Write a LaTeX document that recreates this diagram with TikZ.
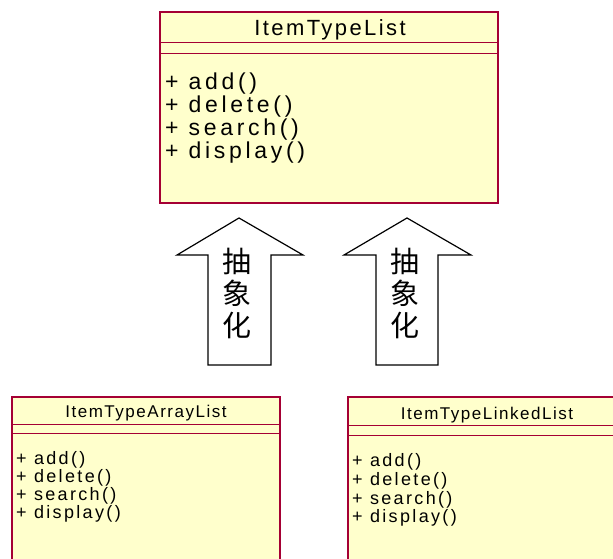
\documentclass[tikz,border=0pt]{standalone}
\usepackage{fontspec}
\setmainfont{Liberation Sans}
% letter-spaced faces for class names and operations
\newfontfamily\bigtitlefont[LetterSpace=11]{Liberation Sans}
\newfontfamily\bigopsfont[LetterSpace=16]{Liberation Sans}
\newfontfamily\smalltitlefont[LetterSpace=9]{Liberation Sans}
\newfontfamily\smallopsfont[LetterSpace=13]{Liberation Sans}
\newfontfamily\cjkfont{Noto Sans CJK SC}
\definecolor{umlred}{RGB}{165,0,52}
\definecolor{umlfill}{RGB}{255,255,204}
\begin{document}
\begin{tikzpicture}[x=1pt,y=-1pt,
  classbox/.style={draw=umlred, fill=umlfill, line width=1.3pt, rectangle, inner sep=0pt},
  compline/.style={draw=umlred, line width=1.1pt},
  bigtitle/.style={font=\bigtitlefont\fontsize{22}{25}\selectfont, inner sep=0pt, anchor=base},
  bigops/.style={font=\bigopsfont\fontsize{23}{26}\selectfont, inner sep=0pt, anchor=base west},
  smalltitle/.style={font=\smalltitlefont\fontsize{17}{20}\selectfont, inner sep=0pt, anchor=base},
  smallops/.style={font=\smallopsfont\fontsize{18}{21}\selectfont, inner sep=0pt, anchor=base west},
  upshape/.style={draw=black, fill=white, line width=1.2pt, line join=miter},
  upword/.style={font=\cjkfont\fontsize{29}{32}\selectfont, align=center, inner sep=0pt}]
\useasboundingbox (0,0) rectangle (613,559);
\clip (0,0) rectangle (613,559);

% abstract list class
\node[classbox, minimum width=338pt, minimum height=191pt] (base) at (329,107.5) {};
\draw[compline] ([yshift=-31pt]base.north west) -- ([yshift=-31pt]base.north east);
\draw[compline] ([yshift=-42pt]base.north west) -- ([yshift=-42pt]base.north east);
\node[bigtitle] (baseName) at (330,36) {ItemTypeList};
\node[bigops] (baseAdd) at (165,89.5) {+ add()};
\node[bigops] (baseDel) at (165,112.5) {+ delete()};
\node[bigops] (baseSea) at (165,135.5) {+ search()};
\node[bigops] (baseDis) at (165,158) {+ display()};

% array based implementation
\node[classbox, minimum width=268pt, minimum height=173pt] (arr) at (146,483.5) {};
\draw[compline] ([yshift=-28pt]arr.north west) -- ([yshift=-28pt]arr.north east);
\draw[compline] ([yshift=-37pt]arr.north west) -- ([yshift=-37pt]arr.north east);
\node[smalltitle] (arrName) at (146,417) {ItemTypeArrayList};
\node[smallops] (arrAdd) at (16,464) {+ add()};
\node[smallops] (arrDel) at (16,482) {+ delete()};
\node[smallops] (arrSea) at (16,500) {+ search()};
\node[smallops] (arrDis) at (16,518) {+ display()};

% linked implementation
\node[classbox, minimum width=282pt, minimum height=173pt] (lnk) at (489,483.5) {};
\draw[compline] ([yshift=-29pt]lnk.north west) -- ([yshift=-29pt]lnk.north east);
\draw[compline] ([yshift=-39pt]lnk.north west) -- ([yshift=-39pt]lnk.north east);
\node[smalltitle] (lnkName) at (487,419) {ItemTypeLinkedList};
\node[smallops] (lnkAdd) at (352,466) {+ add()};
\node[smallops] (lnkDel) at (352,485) {+ delete()};
\node[smallops] (lnkSea) at (352,504) {+ search()};
\node[smallops] (lnkDis) at (352,522) {+ display()};

% abstraction arrows
\draw[upshape] (239,218) -- (303,255) -- (271,255) -- (271,365) -- (208,365)
  -- (208,255) -- (177,255) -- cycle;
\node[upword] (absL) at (237,293) {抽\\象\\化};
\draw[upshape] (407,218) -- (471,255) -- (438,255) -- (438,365) -- (376,365)
  -- (376,255) -- (344,255) -- cycle;
\node[upword] (absR) at (405,293) {抽\\象\\化};
\end{tikzpicture}
\end{document}
